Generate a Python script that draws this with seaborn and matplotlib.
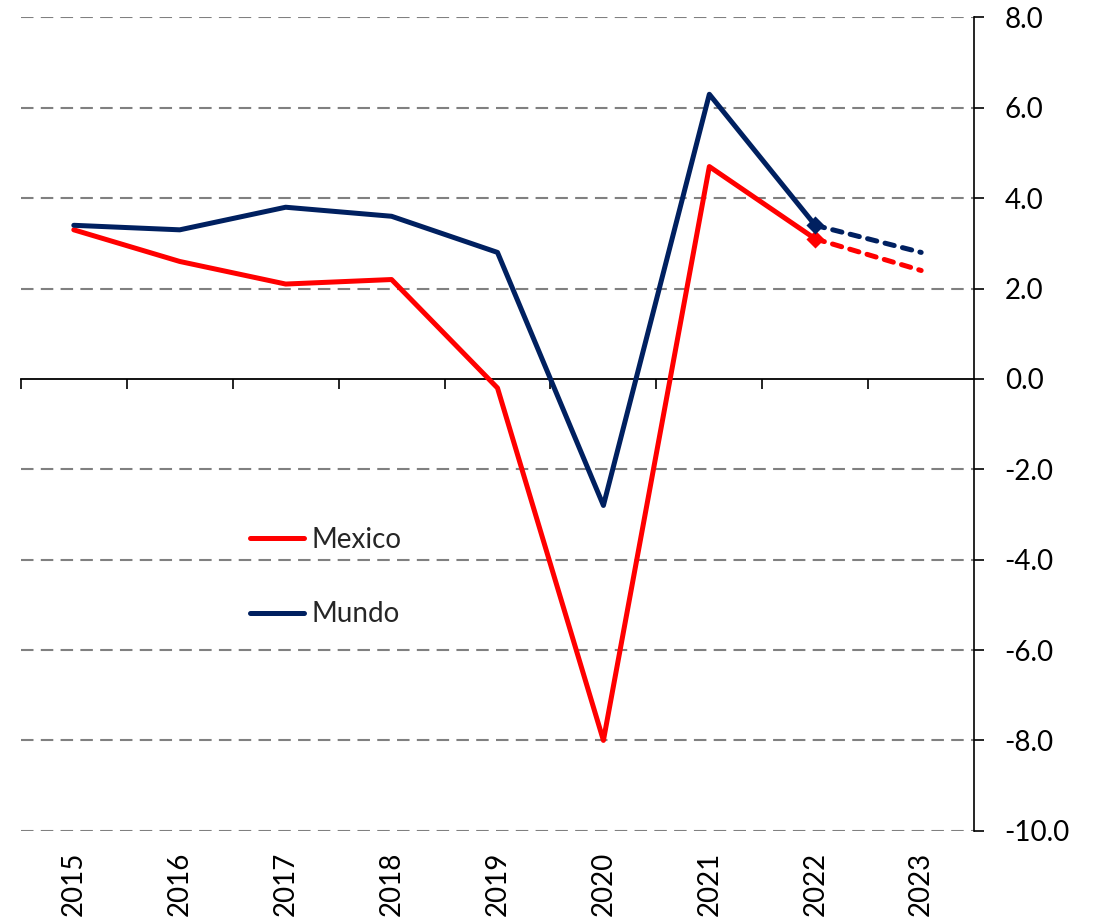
import numpy as np
import pandas as pd
import seaborn as sns
import matplotlib.pyplot as plt
from matplotlib.ticker import FuncFormatter

# datos (crecimiento del PIB, %)
years = [2015, 2016, 2017, 2018, 2019, 2020, 2021, 2022, 2023]
mexico = [3.3, 2.6, 2.1, 2.2, -0.2, -8.0, 4.7, 3.1, 2.4]
mundo = [3.4, 3.3, 3.8, 3.6, 2.8, -2.8, 6.3, 3.4, 2.8]
y_ticks = [-10, -8, -6, -4, -2, 0, 2, 4, 6, 8]

ROJO = '#FF0000'
AZUL = '#002060'

sns.set_style('white')
plt.rcParams['font.family'] = ['Lato', 'DejaVu Sans']

df = pd.DataFrame({'year': years, 'Mexico': mexico, 'Mundo': mundo})
hist = df[df['year'] <= 2022]
proy = df[df['year'] >= 2022]

fig, ax = plt.subplots(figsize=(10.97, 9.19), dpi=100)
fig.subplots_adjust(left=0.019, right=0.888, top=0.981, bottom=0.096)

# lineas historicas
sns.lineplot(x='year', y='Mexico', data=hist, color=ROJO, lw=3.6, ax=ax,
             label='Mexico', solid_capstyle='round', zorder=3)
sns.lineplot(x='year', y='Mundo', data=hist, color=AZUL, lw=3.6, ax=ax,
             label='Mundo', solid_capstyle='round', zorder=4)

# proyecciones
for col, c, z in [('Mexico', ROJO, 3), ('Mundo', AZUL, 4)]:
    sns.lineplot(x='year', y=col, data=proy, color=c, lw=3.6, ax=ax,
                 dashes=False, zorder=z, legend=False)
    ax.lines[-1].set_dashes((1.9, 1.7))
    ax.lines[-1].set_dash_capstyle('round')
    sns.scatterplot(x='year', y=col, data=proy[proy['year'] == 2022],
                    color=c, marker='D', s=85, linewidth=0, ax=ax,
                    zorder=z + 2, legend=False)

# ejes
ax.set_xlim(2014.5, 2023.5)
ax.set_ylim(-10, 8)
ax.set_yticks(y_ticks)
ax.yaxis.set_major_formatter(FuncFormatter(lambda v, p: f'{v:.1f}'))
ax.yaxis.tick_right()
ax.tick_params(axis='y', direction='out', length=7, width=1.2, pad=15,
               labelsize=20, colors='black', right=True, left=False)
ax.set_xticks(years)
ax.set_xticklabels([str(y) for y in years], rotation=90)
ax.tick_params(axis='x', length=0, pad=15, labelsize=20, colors='black')
ax.set_xlabel('')
ax.set_ylabel('')

for s in ['left', 'top', 'bottom']:
    ax.spines[s].set_visible(False)
ax.spines['right'].set_color('black')
ax.spines['right'].set_linewidth(1.2)

ax.yaxis.grid(True, color='#808080', lw=1.5, linestyle=(0, (6, 3.5)))
ax.set_axisbelow(True)
ax.yaxis.get_major_ticks()[y_ticks.index(0)].gridline.set_visible(False)

# linea de cero con marcas entre categorias
sec = ax.secondary_xaxis(10 / 18)
sec.set_alignment('bottom')
sec.set_xticks([y + 0.5 for y in [2014] + years[:-1]])
sec.set_xticklabels([])
sec.tick_params(axis='x', direction='out', length=7, width=1.2, colors='black')
sec.spines['bottom'].set_color('black')
sec.spines['bottom'].set_linewidth(1.3)

leg = ax.legend(loc='center left', bbox_to_anchor=(250 / 1097, 1 - 577 / 919),
                bbox_transform=fig.transFigure, frameon=False, fontsize=20,
                handlelength=1.95, handletextpad=0.25, labelspacing=1.75,
                borderpad=0, borderaxespad=0)

fig.savefig('out.png', dpi=100)
